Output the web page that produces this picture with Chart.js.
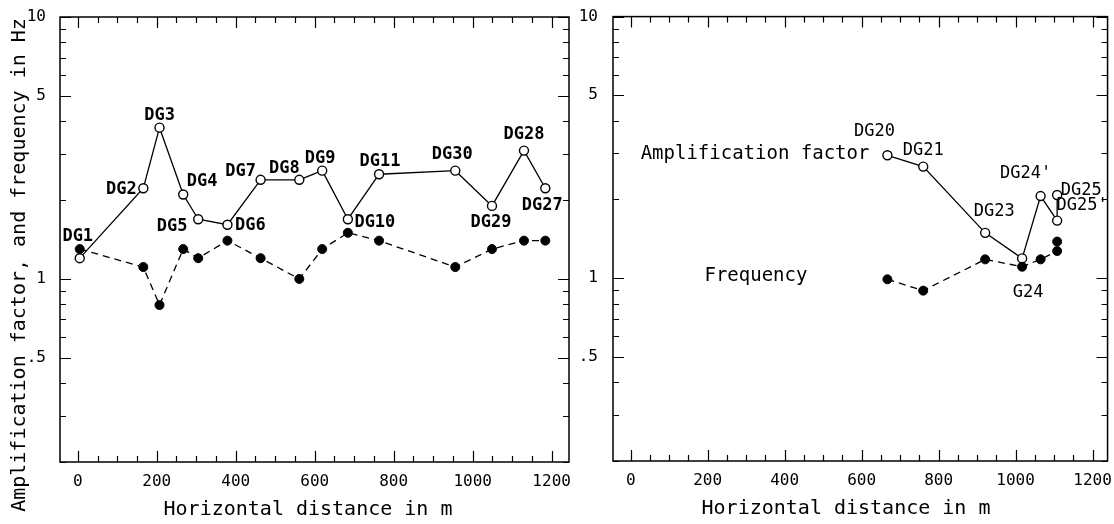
<!DOCTYPE html>
<html>
<head>
<meta charset="utf-8">
<script src="https://cdn.jsdelivr.net/npm/chart.js@4.4.1/dist/chart.umd.min.js"></script>
<style>
  html, body { margin: 0; padding: 0; background: #fff; }
  #wrap { position: relative; width: 1114px; height: 524px; overflow: hidden; background: #fff; }
  canvas { position: absolute; top: 0; }
  #cL { left: 0; }
  #cR { left: 580px; }
</style>
</head>
<body>
<div id="wrap">
  <canvas id="cL" width="580" height="524"></canvas>
  <canvas id="cR" width="534" height="524"></canvas>
</div>
<script>
// ---------- data ----------
const leftStations = ['DG1','DG2','DG3','DG4','DG5','DG6','DG7','DG8','DG9','DG10','DG11','DG30','DG29','DG28','DG27'];
const leftDistance = [5, 166, 207, 267, 305, 379, 463, 561, 619, 684, 763, 956, 1049, 1130, 1184];
const leftAmplification = [1.20, 2.22, 3.78, 2.10, 1.69, 1.61, 2.39, 2.39, 2.59, 1.69, 2.51, 2.59, 1.90, 3.09, 2.22];
const leftFrequency = [1.30, 1.11, 0.795, 1.30, 1.20, 1.40, 1.20, 1.00, 1.30, 1.50, 1.40, 1.11, 1.30, 1.40, 1.40];

const rightStations = ['DG20','DG21','DG23','G24',"DG24'","DG25'",'DG25'];
const rightDistance = [667, 760, 921, 1017, 1065, 1108, 1108];
const rightAmplification = [2.95, 2.67, 1.49, 1.19, 2.06, 1.66, 2.08];
const rightFrequency = [0.99, 0.896, 1.18, 1.106, 1.18, 1.27, 1.38];

const xTickValues = [0,50,100,150,200,250,300,350,400,450,500,550,600,650,700,750,800,850,900,950,1000,1050,1100,1150,1200];
const xLabelValues = [0, 200, 400, 600, 800, 1000, 1200];
const xLabelTexts = ['0', '200', '400', '600', '800', '1000', '1200'];
const yTickValues = [0.2,0.3,0.4,0.5,0.6,0.7,0.8,0.9,1,2,3,4,5,6,7,8,9,10];
const yLabelValues = [0.5, 1, 5, 10];
const yLabelTexts = ['.5', '1', '5', '10'];

const yTitle = 'Amplification factor, and frequency in Hz';
const xTitle = 'Horizontal distance in m';
const ampLegend = 'Amplification factor';
const freqLegend = 'Frequency';

// ---------- label placement (pixels, relative to the point) ----------
const leftLabelOffsets = [[-2,-22],[-22,1],[0,-12],[19,-13],[-26,7],[23,1],[-20,-8],[-15,-11],[-2,-12],[27,3],[1,-13],[-3,-16],[-1,17],[0,-16],[-3,17]];
const rightLabelOffsets = [[-13,-24],[0,-16],[9,-21],[6,34],[-15,-22],[25,-15],[24,-4]];

// ---------- setup ----------
const FONT = '"DejaVu Sans Mono", monospace';
Chart.defaults.font.family = FONT;
Chart.defaults.font.size = 16;
Chart.defaults.color = '#000';

const toPoints = (xs, ys) => xs.map((x, i) => ({ x: x, y: ys[i] }));

const frameTicksPlugin = {
  id: 'frameTicks',
  beforeDatasetsDraw(chart) {
    const { ctx, chartArea: a, scales: { x, y } } = chart;
    ctx.save();
    ctx.strokeStyle = '#000';
    ctx.lineWidth = 1.5;
    ctx.strokeRect(a.left, a.top, a.right - a.left, a.bottom - a.top);
    ctx.lineWidth = 1.2;
    ctx.beginPath();
    x.ticks.forEach(t => {
      const px = Math.round(x.getPixelForValue(t.value)) + 0.5;
      const len = xLabelValues.includes(t.value) ? 11 : 6;
      ctx.moveTo(px, a.bottom); ctx.lineTo(px, a.bottom - len);
      ctx.moveTo(px, a.top); ctx.lineTo(px, a.top + len);
    });
    y.ticks.forEach(t => {
      const py = Math.round(y.getPixelForValue(t.value)) + 0.5;
      const len = yLabelValues.includes(t.value) ? 11 : 6;
      ctx.moveTo(a.left, py); ctx.lineTo(a.left + len, py);
      ctx.moveTo(a.right, py); ctx.lineTo(a.right - len, py);
    });
    ctx.stroke();
    ctx.restore();
  }
};

function makeDecor(cfg) {
  return {
    id: 'decor',
    afterDatasetsDraw(chart) {
      const ctx = chart.ctx;
      ctx.save();
      ctx.fillStyle = '#000';
      ctx.textBaseline = 'middle';
      cfg.sets.forEach(set => {
        const meta = chart.getDatasetMeta(set.dataset);
        ctx.font = set.font;
        ctx.textAlign = set.align || 'center';
        set.texts.forEach((txt, i) => {
          const idx = set.indices ? set.indices[i] : i;
          const el = meta.data[idx];
          const off = set.offsets[i];
          ctx.fillText(txt, el.x + off[0], el.y + off[1]);
        });
      });
      cfg.titles.forEach(t => {
        ctx.save();
        ctx.font = t.font;
        ctx.textAlign = 'center';
        ctx.translate(t.x, t.y);
        if (t.rotate) ctx.rotate(t.rotate);
        ctx.fillText(t.text, 0, 0);
        ctx.restore();
      });
      ctx.restore();
    }
  };
}

function makeChart(canvasId, dist, amp, freq, geom, decor) {
  return new Chart(document.getElementById(canvasId), {
    type: 'scatter',
    data: {
      datasets: [
        {
          label: freqLegend,
          data: toPoints(dist, freq),
          showLine: true,
          borderColor: '#000',
          borderWidth: 1.3,
          borderDash: [7, 5],
          pointRadius: 4.5,
          pointBackgroundColor: '#000',
          pointBorderColor: '#000',
          pointBorderWidth: 1
        },
        {
          label: ampLegend,
          data: toPoints(dist, amp),
          showLine: true,
          borderColor: '#000',
          borderWidth: 1.3,
          pointRadius: 4.5,
          pointBackgroundColor: '#fff',
          pointBorderColor: '#000',
          pointBorderWidth: 1.4
        }
      ]
    },
    options: {
      responsive: false,
      animation: false,
      devicePixelRatio: 1,
      layout: { padding: geom.padding },
      plugins: { legend: { display: false }, tooltip: { enabled: false } },
      scales: {
        x: {
          type: 'linear',
          min: geom.xMin,
          max: geom.xMax,
          afterBuildTicks: s => { s.ticks = xTickValues.map(v => ({ value: v })); },
          afterFit: s => { s.height = geom.xHeight; },
          grid: { display: false },
          border: { display: false },
          ticks: {
            autoSkip: false, maxRotation: 0, minRotation: 0, padding: 2,
            color: '#000', font: { size: 16 },
            callback: v => { const i = xLabelValues.indexOf(v); return i < 0 ? '' : xLabelTexts[i]; }
          }
        },
        y: {
          type: 'logarithmic',
          min: 0.2,
          max: 10,
          afterBuildTicks: s => { s.ticks = yTickValues.map(v => ({ value: v })); },
          afterFit: s => { s.width = geom.yWidth; },
          grid: { display: false },
          border: { display: false },
          ticks: {
            autoSkip: false, padding: geom.yPad,
            color: '#000', font: { size: 16 },
            callback: v => { const i = yLabelValues.indexOf(v); return i < 0 ? '' : yLabelTexts[i]; }
          }
        }
      }
    },
    plugins: [frameTicksPlugin, makeDecor(decor)]
  });
}

const labelFontBold = 'bold 17px ' + FONT;
const labelFont = '17px ' + FONT;
const bigFont = '19px ' + FONT;
const titleFont = '20px ' + FONT;

makeChart('cL', leftDistance, leftAmplification, leftFrequency,
  { padding: { left: 0, right: 11, top: 17, bottom: 0 }, xMin: -45, xMax: 1244, xHeight: 62, yWidth: 60, yPad: 6 },
  {
    sets: [ { dataset: 1, texts: leftStations, offsets: leftLabelOffsets, font: labelFontBold } ],
    titles: [
      { text: yTitle, x: 20, y: 265, rotate: -Math.PI / 2, font: titleFont },
      { text: xTitle, x: 308, y: 510, font: titleFont }
    ]
  });

makeChart('cR', rightDistance, rightAmplification, rightFrequency,
  { padding: { left: 0, right: 3, top: 15, bottom: 0 }, xMin: -46, xMax: 1239, xHeight: 63, yWidth: 33, yPad: 7 },
  {
    sets: [
      { dataset: 1, texts: rightStations, offsets: rightLabelOffsets, font: labelFont },
      { dataset: 1, indices: [0], texts: [ampLegend], offsets: [[-18, -1]], align: 'right', font: bigFont },
      { dataset: 0, indices: [0], texts: [freqLegend], offsets: [[-80, -3]], align: 'right', font: bigFont }
    ],
    titles: [ { text: xTitle, x: 266, y: 509, font: titleFont } ]
  });
</script>
</body>
</html>
